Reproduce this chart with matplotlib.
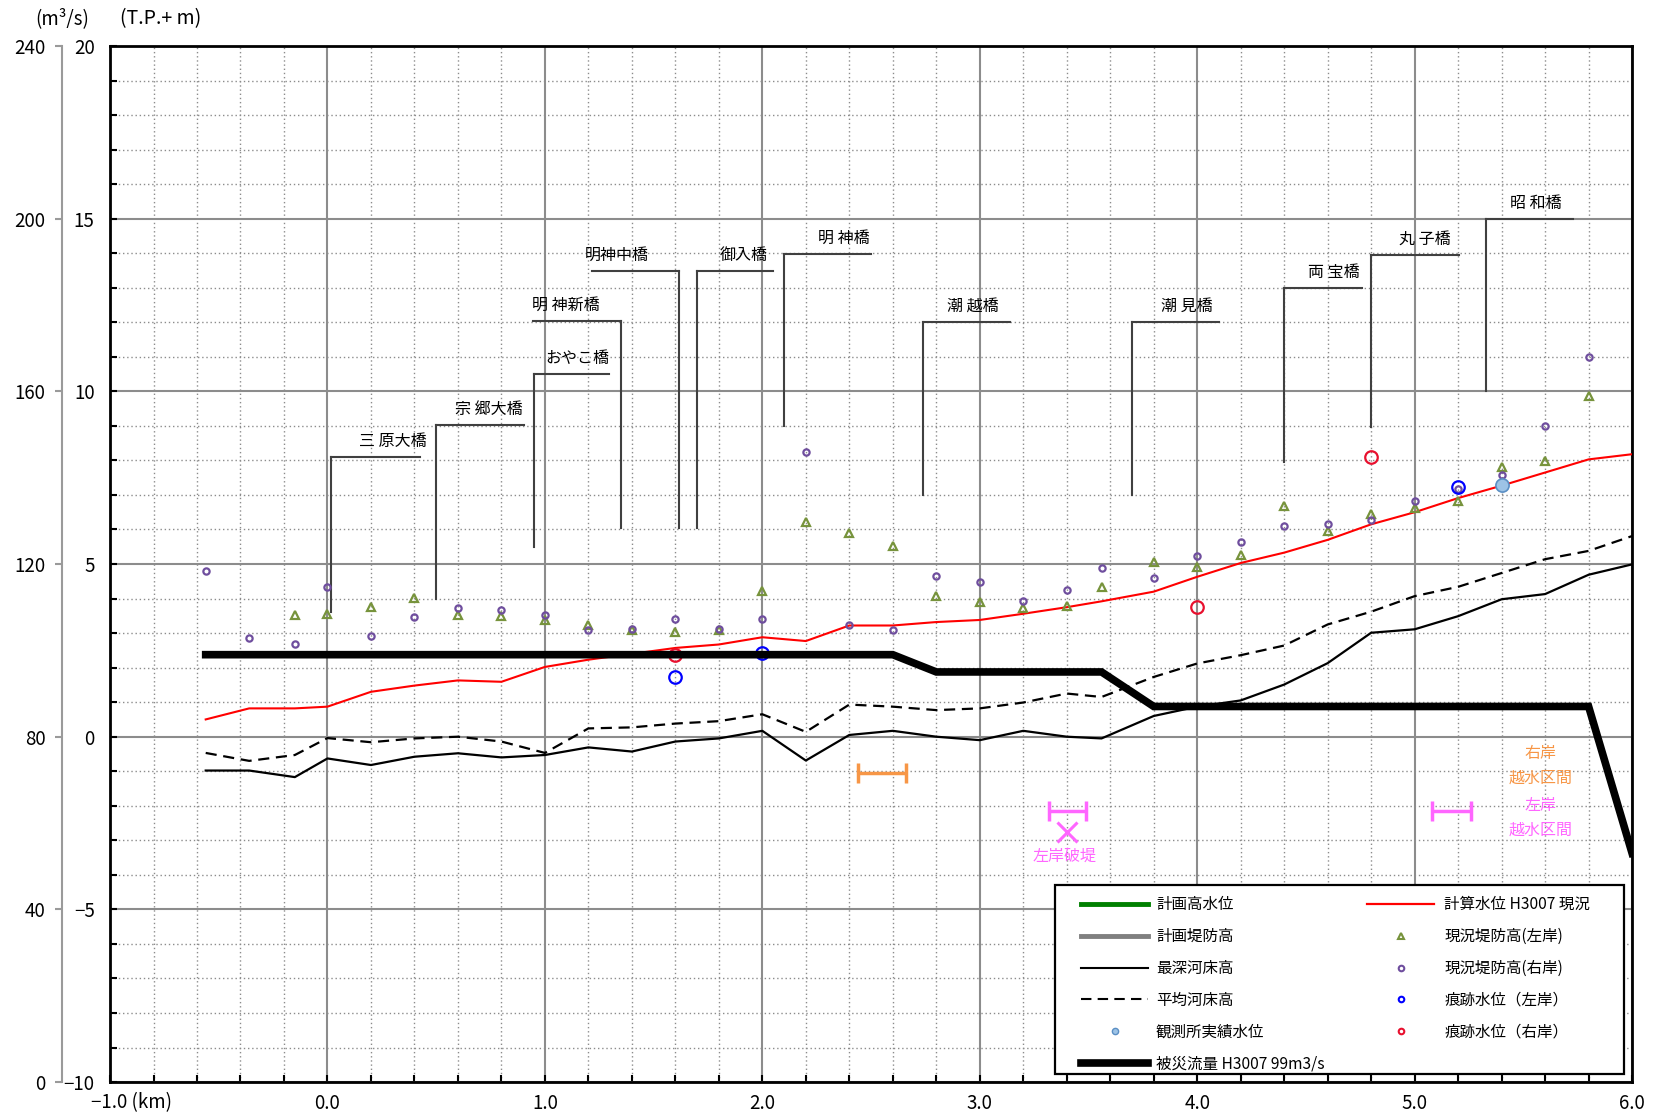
import matplotlib
matplotlib.use('Agg')
import matplotlib.pyplot as plt
from matplotlib.lines import Line2D
from matplotlib.patches import Rectangle
from matplotlib.ticker import MultipleLocator, FixedLocator, FixedFormatter

plt.rcParams['font.family'] = ['Noto Sans CJK JP', 'DejaVu Sans']

# ---------------- data ----------------
km = [-0.56, -0.36, -0.15, 0.0, 0.2, 0.4, 0.6, 0.8, 1.0, 1.2, 1.4, 1.6, 1.8, 2.0,
      2.2, 2.4, 2.6, 2.8, 3.0, 3.2, 3.4, 3.56, 3.8, 4.0, 4.2, 4.4, 4.6, 4.8, 5.0,
      5.2, 5.4, 5.6, 5.8, 6.0]

calc_wl = [0.50, 0.82, 0.82, 0.87, 1.30, 1.48, 1.63, 1.59, 2.02, 2.23, 2.40, 2.57,
           2.67, 2.88, 2.77, 3.22, 3.22, 3.32, 3.38, 3.56, 3.75, 3.92, 4.20, 4.63,
           5.03, 5.33, 5.70, 6.15, 6.50, 6.91, 7.27, 7.65, 8.03, 8.18]

mean_bed = [-0.47, -0.70, -0.53, -0.04, -0.16, -0.05, 0.00, -0.14, -0.47, 0.24,
            0.27, 0.38, 0.45, 0.65, 0.14, 0.93, 0.87, 0.77, 0.82, 0.99, 1.25, 1.15,
            1.73, 2.12, 2.36, 2.64, 3.25, 3.62, 4.07, 4.34, 4.74, 5.14, 5.38, 5.81]

deep_bed = [-0.98, -0.98, -1.17, -0.63, -0.82, -0.58, -0.48, -0.60, -0.53, -0.31,
            -0.43, -0.14, -0.05, 0.17, -0.69, 0.05, 0.17, 0.00, -0.10, 0.17, 0.00,
            -0.05, 0.60, 0.87, 1.05, 1.51, 2.13, 3.01, 3.11, 3.49, 3.98, 4.13, 4.69,
            4.99]

discharge = [99, 99, 99, 99, 99, 99, 99, 99, 99, 99, 99, 99, 99, 99, 99, 99, 99,
             95, 95, 95, 95, 95,
             87, 87, 87, 87, 87, 87, 87, 87, 87, 87, 87,
             53]

levee_right_km = [-0.56, -0.36, -0.15, 0.0, 0.2, 0.4, 0.6, 0.8, 1.0, 1.2, 1.4, 1.6,
                  1.8, 2.0, 2.2, 2.4, 2.6, 2.8, 3.0, 3.2, 3.4, 3.56, 3.8, 4.0, 4.2,
                  4.4, 4.6, 4.8, 5.0, 5.2, 5.4, 5.6, 5.8]
levee_right = [4.81, 2.86, 2.69, 4.33, 2.91, 3.46, 3.72, 3.67, 3.51, 3.08, 3.13,
               3.41, 3.13, 3.40, 8.24, 3.22, 3.08, 4.64, 4.49, 3.94, 4.26, 4.88,
               4.59, 5.24, 5.63, 6.11, 6.16, 6.27, 6.82, 7.16, 7.57, 8.99, 11.00]

levee_left_km = [-0.15, 0.0, 0.2, 0.4, 0.6, 0.8, 1.0, 1.2, 1.4, 1.6, 1.8, 2.0, 2.2,
                 2.4, 2.6, 2.8, 3.0, 3.2, 3.4, 3.56, 3.8, 4.0, 4.2, 4.4, 4.6, 4.8,
                 5.0, 5.2, 5.4, 5.6, 5.8]
levee_left = [3.51, 3.56, 3.75, 4.02, 3.51, 3.49, 3.39, 3.22, 3.08, 3.03, 3.08,
              4.23, 6.23, 5.91, 5.53, 4.06, 3.89, 3.72, 3.78, 4.33, 5.05, 4.92,
              5.27, 6.68, 5.97, 6.45, 6.61, 6.83, 7.81, 7.99, 9.86]

trace_left_km = [1.6, 2.0, 5.2]
trace_left = [1.73, 2.43, 7.23]
trace_right_km = [1.6, 4.0, 4.8]
trace_right = [2.38, 3.75, 8.09]
obs_km = [5.4]
obs_wl = [7.29]

# bridges: name, vertical-line km, bottom, top(level of horizontal), horizontal span, label centre
bridge_names = ['三 原大橋', '宗 郷大橋', 'おやこ橋', '明 神新橋', '明神中橋', '御入橋',
                '明 神橋', '潮 越橋', '潮 見橋', '両 宝橋', '丸 子橋', '昭 和橋']
bridge_x = [0.017, 0.498, 0.948, 1.350, 1.617, 1.700, 2.100, 2.741, 3.700, 4.400,
            4.800, 5.328]
bridge_bottom = [3.6, 4.0, 5.49, 6.04, 6.04, 6.04, 9.0, 7.0, 7.0, 7.96, 8.97, 10.0]
bridge_top = [8.10, 9.03, 10.51, 12.03, 13.49, 13.49, 13.97, 12.0, 12.0, 12.98,
              13.96, 15.0]
bridge_h0 = [0.017, 0.498, 0.948, 0.946, 1.215, 1.700, 2.100, 2.741, 3.700, 4.400,
             4.800, 5.328]
bridge_h1 = [0.425, 0.903, 1.296, 1.350, 1.617, 2.050, 2.500, 3.137, 4.101, 4.757,
             5.205, 5.728]
bridge_label_x = [0.30, 0.742, 1.149, 1.095, 1.33, 1.916, 2.373, 2.968, 3.952, 4.628,
                  5.049, 5.557]

# overflow / breach sections
right_over_span = [2.44, 2.66]
right_over_level = -1.05
left_over_spans = [[3.32, 3.49], [5.08, 5.26]]
left_over_level = -2.15
breach_km = 3.40
breach_level = -2.75

x_ticks = [-1.0, 0.0, 1.0, 2.0, 3.0, 4.0, 5.0, 6.0]
x_ticklabels = ['', '0.0', '1.0', '2.0', '3.0', '4.0', '5.0', '6.0']
y_ticks = [-10, -5, 0, 5, 10, 15, 20]
q_ticks = [0, 40, 80, 120, 160, 200, 240]

# ---------------- colours ----------------
C_PURPLE = '#6F4E9E'
C_GREEN = '#77933C'
C_ORANGE = '#F79646'
C_MAGENTA = '#FF66FF'
C_GRID = '#8C8C8C'

fig = plt.figure(figsize=(16.62, 11.17), dpi=100)
ax = fig.add_axes([0.0662, 0.0313, 0.9158, 0.9275])
ax2 = ax.twinx()

ax.set_xlim(-1.0, 6.0)
ax.set_ylim(-10, 20)
ax2.set_ylim(0, 240)

ax.xaxis.set_major_locator(FixedLocator(x_ticks))
ax.xaxis.set_major_formatter(FixedFormatter(x_ticklabels))
ax.xaxis.set_minor_locator(MultipleLocator(0.2))
ax.yaxis.set_major_locator(FixedLocator(y_ticks))
ax.yaxis.set_minor_locator(MultipleLocator(1))

ax.grid(which='major', color=C_GRID, lw=1.5, ls='-', zorder=0)
ax.grid(which='minor', color=C_GRID, lw=1.0, ls=(0, (1, 2)), zorder=0)
ax.set_axisbelow(True)

ax.yaxis.tick_left()
ax.tick_params(which='both', direction='in', length=5, width=1.5, top=False,
               right=False, left=True, bottom=True, labelsize=13.5)
ax.tick_params(axis='y', pad=11)
ax.tick_params(axis='x', pad=8)
for s in ax.spines.values():
    s.set_linewidth(2.0)
    s.set_color('black')

# secondary discharge axis
ax2.yaxis.tick_left()
ax2.yaxis.set_label_position('left')
ax2.spines['left'].set_position(('axes', -0.0315))
ax2.spines['left'].set_color('#9A9A9A')
ax2.spines['left'].set_linewidth(1.5)
for k in ['right', 'top', 'bottom']:
    ax2.spines[k].set_visible(False)
ax2.set_yticks(q_ticks)
ax2.tick_params(axis='y', direction='out', length=5, width=1.5, color='#9A9A9A',
                labelsize=13.5, pad=7)

# ---------------- series ----------------
ax.plot(km, deep_bed, color='black', lw=1.6, zorder=3)
ax.plot(km, mean_bed, color='black', lw=1.6, ls=(0, (5, 3)), zorder=3)
ax.plot(km, calc_wl, color='#FF0000', lw=1.5, zorder=3)
ax.plot(levee_left_km, levee_left, ls='none', marker='^', ms=6, mfc='none',
        mec=C_GREEN, mew=1.6, zorder=4)
ax.plot(levee_right_km, levee_right, ls='none', marker='o', ms=4.5, mfc='none',
        mec=C_PURPLE, mew=1.6, zorder=4)
ax.plot(trace_left_km, trace_left, ls='none', marker='o', ms=9, mfc='none',
        mec='#0000FF', mew=1.6, zorder=5)
ax.plot(trace_right_km, trace_right, ls='none', marker='o', ms=9, mfc='none',
        mec='#E8102E', mew=1.6, zorder=5)
ax.plot(obs_km, obs_wl, ls='none', marker='o', ms=9.5, mfc='#9DC3E6',
        mec='#5B8FC4', mew=1.2, zorder=5)
ax2.plot(km, discharge, color='black', lw=5.5, solid_joinstyle='miter', zorder=3)

# bridges
for name, x, yb, yt, h0, h1, lx in zip(bridge_names, bridge_x, bridge_bottom,
                                       bridge_top, bridge_h0, bridge_h1,
                                       bridge_label_x):
    ax.plot([x, x], [yb, yt], color='#404040', lw=1.5, zorder=2)
    ax.plot([h0, h1], [yt, yt], color='#404040', lw=1.5, zorder=2)
    ax.text(lx, yt + 0.45, name, ha='center', va='center', fontsize=11.5,
            color='black', zorder=6)

# overflow sections
cap = 0.3
ax.hlines(right_over_level, right_over_span[0], right_over_span[1],
          color=C_ORANGE, lw=2.5, zorder=4)
ax.vlines(right_over_span, right_over_level - cap, right_over_level + cap,
          color=C_ORANGE, lw=2.5, zorder=4)
for sp in left_over_spans:
    ax.hlines(left_over_level, sp[0], sp[1], color=C_MAGENTA, lw=2.5, zorder=4)
    ax.vlines(sp, left_over_level - cap, left_over_level + cap, color=C_MAGENTA,
              lw=2.5, zorder=4)
ax.plot([breach_km], [breach_level], ls='none', marker='x', ms=14, mew=2.2,
        color=C_MAGENTA, zorder=4)
ax.text(3.39, -3.45, '左岸破堤', ha='center', va='center', fontsize=11.5,
        color=C_MAGENTA)
ax.text(5.58, -0.50, '右岸', ha='center', va='center', fontsize=11.5, color=C_ORANGE)
ax.text(5.58, -1.20, '越水区間', ha='center', va='center', fontsize=11.5,
        color=C_ORANGE)
ax.text(5.58, -1.98, '左岸', ha='center', va='center', fontsize=11.5,
        color=C_MAGENTA)
ax.text(5.58, -2.70, '越水区間', ha='center', va='center', fontsize=11.5,
        color=C_MAGENTA)

# axis captions
ax.annotate('−1.0 (km)', xy=(-1.0, 0), xycoords=('data', 'axes fraction'),
            xytext=(-14, -7), textcoords='offset points', ha='left', va='top',
            fontsize=13.5)
fig.text(62 / 1662, 1 - 19 / 1117, '(m³/s)', ha='center', va='center',
         fontsize=13.5)
fig.text(120 / 1662, 1 - 19 / 1117, '(T.P.+ m)', ha='left', va='center',
         fontsize=14)

# ---------------- legend ----------------
ax.add_patch(Rectangle((0.6207, 0.0079), 0.374, 0.182, transform=ax.transAxes,
                       facecolor='white', edgecolor='black', lw=1.6, zorder=7))

h1 = [Line2D([], [], color='#008000', lw=3.5),
      Line2D([], [], color='#808080', lw=3.5),
      Line2D([], [], color='black', lw=1.5),
      Line2D([], [], color='black', lw=1.5, ls=(0, (5, 3))),
      Line2D([], [], ls='none', marker='o', ms=4.5, mfc='#9DC3E6', mec='#5B8FC4',
             mew=1.0),
      Line2D([], [], color='black', lw=5.5)]
l1 = ['計画高水位', '計画堤防高', '最深河床高', '平均河床高', '観測所実績水位',
      '被災流量 H3007 99m3/s']
h2 = [Line2D([], [], color='#FF0000', lw=1.6),
      Line2D([], [], ls='none', marker='^', ms=5, mfc='none', mec=C_GREEN, mew=1.5),
      Line2D([], [], ls='none', marker='o', ms=4, mfc='none', mec=C_PURPLE, mew=1.5),
      Line2D([], [], ls='none', marker='o', ms=4, mfc='none', mec='#0000FF', mew=1.5),
      Line2D([], [], ls='none', marker='o', ms=4, mfc='none', mec='#E8102E', mew=1.5)]
l2 = ['計算水位 H3007 現況', '現況堤防高(左岸)', '現況堤防高(右岸)', '痕跡水位（左岸）',
      '痕跡水位（右岸）']

leg1 = ax2.legend(h1, l1, loc='upper left', bbox_to_anchor=(0.633, 0.187),
                  bbox_transform=ax.transAxes, frameon=False, borderpad=0,
                  handlelength=4.3, handletextpad=0.5, labelspacing=0.96,
                  fontsize=11.2)
ax2.add_artist(leg1)
leg2 = ax2.legend(h2, l2, loc='upper left', bbox_to_anchor=(0.821, 0.187),
                  bbox_transform=ax.transAxes, frameon=False, borderpad=0,
                  handlelength=4.3, handletextpad=0.65, labelspacing=0.96,
                  fontsize=11.2)
leg1.set_zorder(8)
leg2.set_zorder(8)

fig.savefig('out.png', dpi=100)
